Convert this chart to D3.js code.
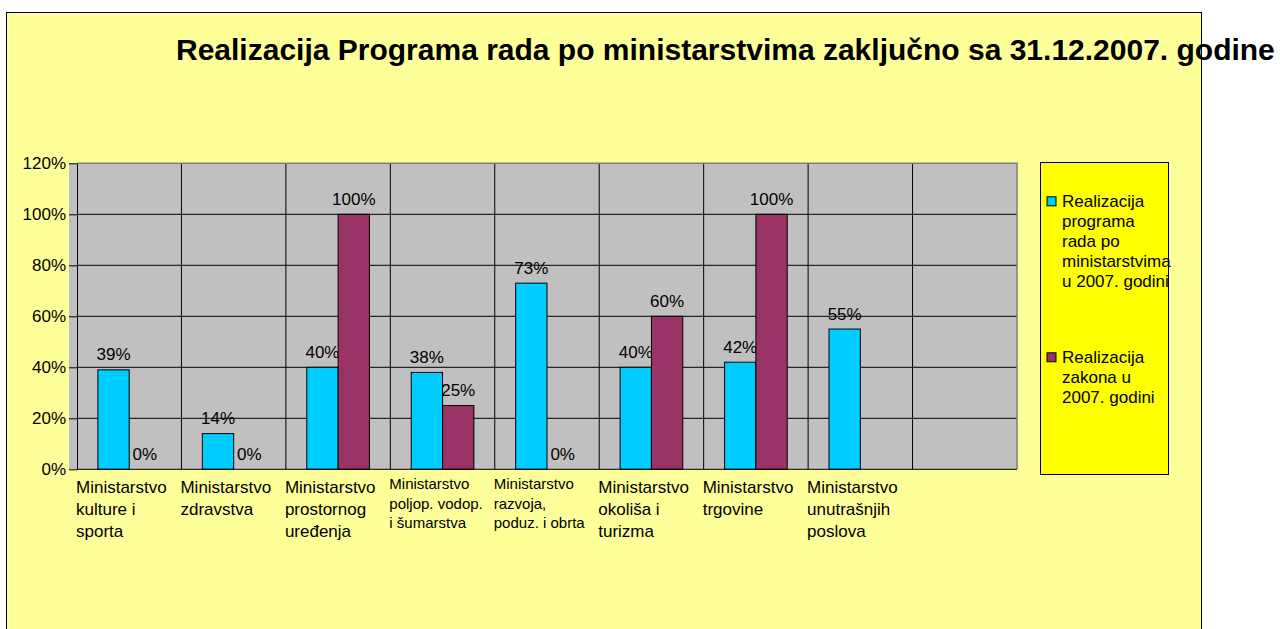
<!DOCTYPE html>
<html>
<head>
<meta charset="utf-8">
<script src="https://cdn.jsdelivr.net/npm/d3@7"></script>
<style>
  html, body { margin: 0; padding: 0; background: #ffffff; }
  svg { display: block; font-family: "Liberation Sans", Arial, sans-serif; }
</style>
</head>
<body>
<svg id="chart" width="1280" height="629"></svg>
<script>
// ---- data -------------------------------------------------------------
const chartTitle = "Realizacija Programa rada po ministarstvima zaključno sa 31.12.2007. godine";

// category names, "\n" marks where a label wraps
const categories = [
  "Ministarstvo\nkulture i\nsporta",
  "Ministarstvo\nzdravstva",
  "Ministarstvo\nprostornog\nuređenja",
  "Ministarstvo\npoljop. vodop.\ni šumarstva",
  "Ministarstvo\nrazvoja,\nporuz. i obrta".replace("poruz", "poduz"),
  "Ministarstvo\nokoliša i\nturizma",
  "Ministarstvo\ntrgovine",
  "Ministarstvo\nunutrašnjih\nposlova",
  ""
];

const seriesNames = [
  "Realizacija\nprograma\nrada po\nministarstvima\nu 2007. godini",
  "Realizacija\nzakona u\n2007. godini"
];

// share of the plan carried out (null = no value)
const programValues = [0.39, 0.14, 0.40, 0.38, 0.73, 0.40, 0.42, 0.55, null];
const lawValues     = [0.00, 0.00, 1.00, 0.25, 0.00, 0.60, 1.00, null, null];

const yTicks = [0, 0.2, 0.4, 0.6, 0.8, 1.0, 1.2];

const seriesColors = ["#00CCFF", "#993366"];

// ---- layout -----------------------------------------------------------
const svg = d3.select("#chart");
const plot = { left: 77, right: 1017, top: 163.3, bottom: 469.3 };

// chart background
svg.append("rect")
  .attr("x", 6.5).attr("y", 12.5)
  .attr("width", 1195).attr("height", 700)
  .attr("fill", "#FFFF99").attr("stroke", "#000").attr("stroke-width", 1);

// title
svg.append("text")
  .attr("x", 176).attr("y", 60)
  .attr("font-size", 30).attr("font-weight", "bold")
  .attr("fill", "#000")
  .text(chartTitle);

// scales
const x0 = d3.scaleBand().domain(d3.range(categories.length))
  .range([plot.left, plot.right]).paddingInner(0).paddingOuter(0);
const bw = x0.bandwidth();
const x1 = d3.scaleBand().domain([0, 1]).range([bw * 0.2, bw * 0.8]);
const y = d3.scaleLinear().domain([0, 1.2]).range([plot.bottom, plot.top]);

// plot area
svg.append("rect")
  .attr("x", 69).attr("y", plot.top)
  .attr("width", plot.right - 69).attr("height", plot.bottom - plot.top)
  .attr("fill", "#C0C0C0");

// horizontal gridlines
svg.append("g").selectAll("line")
  .data(yTicks.filter(t => t > 0 && t < 1.2))
  .join("line")
  .attr("x1", plot.left).attr("x2", plot.right)
  .attr("y1", d => y(d)).attr("y2", d => y(d))
  .attr("stroke", "#000").attr("stroke-width", 1);

// vertical separators between categories
svg.append("g").selectAll("line")
  .data(d3.range(1, categories.length))
  .join("line")
  .attr("x1", d => x0(d)).attr("x2", d => x0(d))
  .attr("y1", plot.top).attr("y2", plot.bottom)
  .attr("stroke", "#000").attr("stroke-width", 1);

// plot border (top and right)
svg.append("path")
  .attr("d", `M${plot.left},${plot.top}H${plot.right}V${plot.bottom}`)
  .attr("fill", "none").attr("stroke", "#808080").attr("stroke-width", 1.5);

// y axis
const yAxis = d3.axisLeft(y).tickValues(yTicks).tickFormat(d3.format(".0%"))
  .tickSizeInner(8).tickSizeOuter(0).tickPadding(3);
const yg = svg.append("g").attr("transform", `translate(${plot.left},0)`).call(yAxis);
yg.select(".domain").attr("stroke", "#000");
yg.selectAll(".tick line").attr("stroke", "#000");
yg.selectAll(".tick text").attr("font-size", 17).attr("fill", "#000")
  .attr("font-family", "Liberation Sans, Arial, sans-serif");

// bars
const series = [programValues, lawValues];
series.forEach((vals, s) => {
  const g = svg.append("g");
  const pts = vals.map((v, i) => ({ i, v })).filter(d => d.v !== null);
  g.selectAll("rect").data(pts).join("rect")
    .attr("x", d => x0(d.i) + x1(s))
    .attr("y", d => y(d.v))
    .attr("width", x1.bandwidth())
    .attr("height", d => y(0) - y(d.v))
    .attr("fill", seriesColors[s])
    .attr("stroke", "#000").attr("stroke-width", 1);
  g.selectAll("text").data(pts).join("text")
    .attr("x", d => x0(d.i) + x1(s) + x1.bandwidth() / 2)
    .attr("y", d => y(d.v) - 9.5)
    .attr("text-anchor", "middle")
    .attr("font-size", 17).attr("fill", "#000")
    .text(d => d3.format(".0%")(d.v));
});

// x axis line
svg.append("line")
  .attr("x1", plot.left).attr("x2", plot.right)
  .attr("y1", plot.bottom).attr("y2", plot.bottom)
  .attr("stroke", "#000").attr("stroke-width", 1);

// category labels, wrapped; long ones are set in a smaller size
categories.forEach((name, i) => {
  if (!name) return;
  const lines = name.split("\n");
  const t = svg.append("text").attr("fill", "#000").attr("font-size", 17);
  const spans = lines.map(l => t.append("tspan").attr("x", x0(i) - 1).text(l));
  const widest = d3.max(spans, sp => sp.node().getComputedTextLength());
  const small = widest > bw * 0.95;
  const fs = small ? 15 : 17;
  const lh = small ? 19.8 : 22;
  const first = plot.bottom + (small ? 19.4 : 24);
  t.attr("font-size", fs);
  spans.forEach((sp, k) => sp.attr("y", first + k * lh));
});

// legend
const legend = svg.append("g");
legend.append("rect")
  .attr("x", 1040.5).attr("y", 162.5).attr("width", 128).attr("height", 312)
  .attr("fill", "#FFFF00").attr("stroke", "#000").attr("stroke-width", 1);
seriesNames.forEach((name, s) => {
  const base = 207.3 + s * 156;
  legend.append("rect")
    .attr("x", 1047).attr("y", base - 10.5).attr("width", 9).attr("height", 9)
    .attr("fill", seriesColors[s]).attr("stroke", "#000").attr("stroke-width", 1);
  const t = legend.append("text").attr("font-size", 17).attr("fill", "#000");
  name.split("\n").forEach((l, k) => {
    t.append("tspan").attr("x", 1062).attr("y", base + k * 20).text(l);
  });
});
</script>
</body>
</html>
